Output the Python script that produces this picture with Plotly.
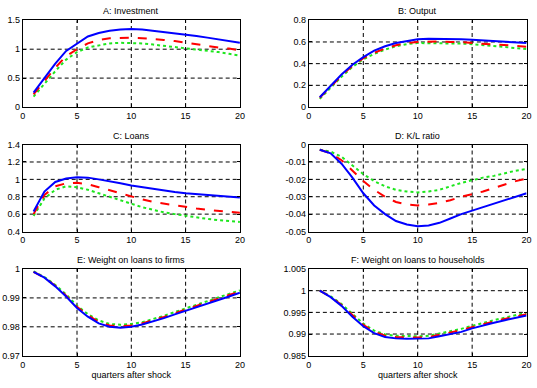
import plotly.graph_objects as go

quarters = list(range(1, 21))

titles = ["A: Investment", "B: Output", "C: Loans", "D: K/L ratio",
          "E: Weight on loans to firms", "F: Weight on loans to households"]

inv_blue = [0.25, 0.5, 0.75, 0.97, 1.1, 1.22, 1.28, 1.32, 1.34, 1.35, 1.34, 1.32, 1.3, 1.28, 1.26, 1.23, 1.2, 1.17, 1.14, 1.11]
inv_red = [0.22, 0.45, 0.68, 0.88, 1.0, 1.1, 1.16, 1.19, 1.2, 1.2, 1.19, 1.18, 1.16, 1.14, 1.11, 1.09, 1.06, 1.03, 1.01, 0.98]
inv_green = [0.18, 0.4, 0.62, 0.82, 0.95, 1.03, 1.07, 1.1, 1.11, 1.11, 1.1, 1.08, 1.06, 1.04, 1.02, 1.0, 0.97, 0.95, 0.92, 0.89]

out_blue = [0.09, 0.2, 0.3, 0.39, 0.46, 0.52, 0.56, 0.59, 0.61, 0.625, 0.63, 0.63, 0.63, 0.625, 0.62, 0.615, 0.61, 0.605, 0.6, 0.59]
out_red = [0.085, 0.19, 0.29, 0.38, 0.45, 0.5, 0.54, 0.57, 0.59, 0.6, 0.605, 0.605, 0.6, 0.6, 0.59, 0.585, 0.58, 0.57, 0.565, 0.555]
out_green = [0.075, 0.18, 0.28, 0.37, 0.44, 0.49, 0.53, 0.56, 0.58, 0.59, 0.59, 0.59, 0.59, 0.585, 0.58, 0.57, 0.56, 0.555, 0.545, 0.535]

loan_blue = [0.63, 0.86, 0.97, 1.01, 1.025, 1.02, 1.0, 0.98, 0.955, 0.93, 0.91, 0.89, 0.87, 0.855, 0.84, 0.83, 0.82, 0.81, 0.8, 0.79]
loan_red = [0.6, 0.82, 0.92, 0.955, 0.96, 0.945, 0.91, 0.875, 0.84, 0.8, 0.77, 0.74, 0.72, 0.7, 0.68, 0.665, 0.65, 0.64, 0.625, 0.615]
loan_green = [0.58, 0.78, 0.88, 0.92, 0.91, 0.88, 0.84, 0.8, 0.76, 0.72, 0.68, 0.65, 0.62, 0.6, 0.58, 0.56, 0.545, 0.53, 0.52, 0.51]

kl_blue = [-0.003, -0.005, -0.011, -0.019, -0.028, -0.035, -0.04, -0.044, -0.046, -0.047, -0.0465, -0.045, -0.0425, -0.04, -0.038, -0.036, -0.034, -0.032, -0.030, -0.028]
kl_red = [-0.003, -0.005, -0.009, -0.015, -0.021, -0.026, -0.03, -0.033, -0.0345, -0.035, -0.0345, -0.0335, -0.032, -0.03, -0.0285, -0.027, -0.025, -0.023, -0.021, -0.0195]
kl_green = [-0.003, -0.004, -0.007, -0.012, -0.017, -0.021, -0.024, -0.026, -0.027, -0.0275, -0.027, -0.026, -0.024, -0.022, -0.0205, -0.019, -0.018, -0.0165, -0.015, -0.014]

wf_blue = [0.999, 0.997, 0.994, 0.9905, 0.9865, 0.9835, 0.9812, 0.98, 0.9797, 0.98, 0.9808, 0.9818, 0.983, 0.9843, 0.9855, 0.9868, 0.988, 0.9893, 0.9905, 0.9918]
wf_red = [0.999, 0.997, 0.9942, 0.9908, 0.9869, 0.984, 0.9817, 0.9805, 0.9802, 0.9805, 0.9812, 0.9822, 0.9834, 0.9847, 0.986, 0.9872, 0.9885, 0.9898, 0.991, 0.9922]
wf_green = [0.9992, 0.9972, 0.9945, 0.9912, 0.9873, 0.9844, 0.9822, 0.981, 0.9807, 0.981, 0.9816, 0.9826, 0.9838, 0.9851, 0.9864, 0.9876, 0.9889, 0.9902, 0.9914, 0.9926]

wh_blue = [1.0, 0.9985, 0.9965, 0.994, 0.9918, 0.9902, 0.9893, 0.989, 0.9889, 0.9889, 0.989, 0.9895, 0.99, 0.9905, 0.9913, 0.992, 0.9926, 0.9932, 0.9938, 0.9943]
wh_red = [1.0, 0.9986, 0.9967, 0.9943, 0.9921, 0.9905, 0.9896, 0.9893, 0.9892, 0.9892, 0.9893, 0.9898, 0.9903, 0.9909, 0.9916, 0.9923, 0.9929, 0.9935, 0.9941, 0.9946]
wh_green = [1.0, 0.9987, 0.9969, 0.9946, 0.9924, 0.9908, 0.9899, 0.9896, 0.9895, 0.9895, 0.9896, 0.9901, 0.9906, 0.9912, 0.9919, 0.9926, 0.9932, 0.9938, 0.9944, 0.9949]

panels = [
    (inv_blue, inv_red, inv_green, [0, 1.5], [0, 0.5, 1, 1.5], ["0", "0.5", "1", "1.5"]),
    (out_blue, out_red, out_green, [0, 0.8], [0, 0.2, 0.4, 0.6, 0.8], ["0", "0.2", "0.4", "0.6", "0.8"]),
    (loan_blue, loan_red, loan_green, [0.4, 1.4], [0.4, 0.6, 0.8, 1, 1.2, 1.4], ["0.4", "0.6", "0.8", "1", "1.2", "1.4"]),
    (kl_blue, kl_red, kl_green, [-0.05, 0], [-0.05, -0.04, -0.03, -0.02, -0.01, 0], ["-0.05", "-0.04", "-0.03", "-0.02", "-0.01", "0"]),
    (wf_blue, wf_red, wf_green, [0.97, 1.0], [0.97, 0.98, 0.99, 1.0], ["0.97", "0.98", "0.99", "1"]),
    (wh_blue, wh_red, wh_green, [0.985, 1.005], [0.985, 0.99, 0.995, 1.0, 1.005], ["0.985", "0.99", "0.995", "1", "1.005"]),
]

W, H = 537, 388
xdoms = [[20 / W, 240.5 / W], [310.5 / W, 531.5 / W]]
ydoms = [[1 - 104.7 / H, 1 - 15.7 / H], [1 - 232.5 / H, 1 - 143.3 / H], [1 - 360 / H, 1 - 271 / H]]

FONT = "Liberation Sans, Arial, sans-serif"
FS = 9
fig = go.Figure()
layout = dict(width=W, height=H, margin=dict(l=0, r=0, t=0, b=0),
              plot_bgcolor="white", paper_bgcolor="white", showlegend=False,
              font=dict(family=FONT, size=FS, color="black"))
annotations = []
shapes = []
for i, (b, r, g, yr, tv, tt) in enumerate(panels):
    n = i + 1
    xa = "x" if n == 1 else f"x{n}"
    ya = "y" if n == 1 else f"y{n}"
    col, row = i % 2, i // 2
    fig.add_trace(go.Scatter(x=quarters, y=g, mode="lines", xaxis=xa, yaxis=ya,
                             line=dict(color="rgb(30,230,30)", width=2, dash="dot")))
    fig.add_trace(go.Scatter(x=quarters, y=r, mode="lines", xaxis=xa, yaxis=ya,
                             line=dict(color="red", width=2, dash="dash")))
    fig.add_trace(go.Scatter(x=quarters, y=b, mode="lines", xaxis=xa, yaxis=ya,
                             line=dict(color="blue", width=2)))
    axcommon = dict(showline=True, linecolor="black", linewidth=1, mirror="ticks",
                    ticks="inside", ticklen=3, tickcolor="black", zeroline=False,
                    showgrid=False, tickfont=dict(family=FONT, size=FS, color="black"))
    layout["xaxis" if n == 1 else f"xaxis{n}"] = dict(
        domain=xdoms[col], anchor=ya, range=[0, 20], tickvals=[0, 5, 10, 15, 20],
        ticktext=["0", "5", "10", "15", "20"],
        title=dict(text="quarters after shock", font=dict(size=FS), standoff=1) if row == 2 else None,
        **axcommon)
    layout["yaxis" if n == 1 else f"yaxis{n}"] = dict(
        domain=ydoms[row], anchor=xa, range=yr, tickvals=tv, ticktext=tt, **axcommon)
    for xv in [5, 10, 15]:
        shapes.append(dict(type="line", xref=xa, yref=f"{ya} domain", x0=xv, x1=xv, y0=0, y1=1,
                           line=dict(color="black", width=1, dash="4px,3px"), layer="below"))
    for yv in tv[1:-1]:
        shapes.append(dict(type="line", xref=f"{xa} domain", yref=ya, x0=0, x1=1, y0=yv, y1=yv,
                           line=dict(color="black", width=1, dash="4px,3px"), layer="below"))
    annotations.append(dict(text=titles[i], xref=f"{xa} domain", yref=f"{ya} domain",
                            x=0.5, y=1, yshift=2, xanchor="center", yanchor="bottom",
                            showarrow=False, font=dict(family=FONT, size=FS, color="black")))
layout["annotations"] = annotations
layout["shapes"] = shapes
fig.update_layout(**layout)
fig.write_html("out.html")
